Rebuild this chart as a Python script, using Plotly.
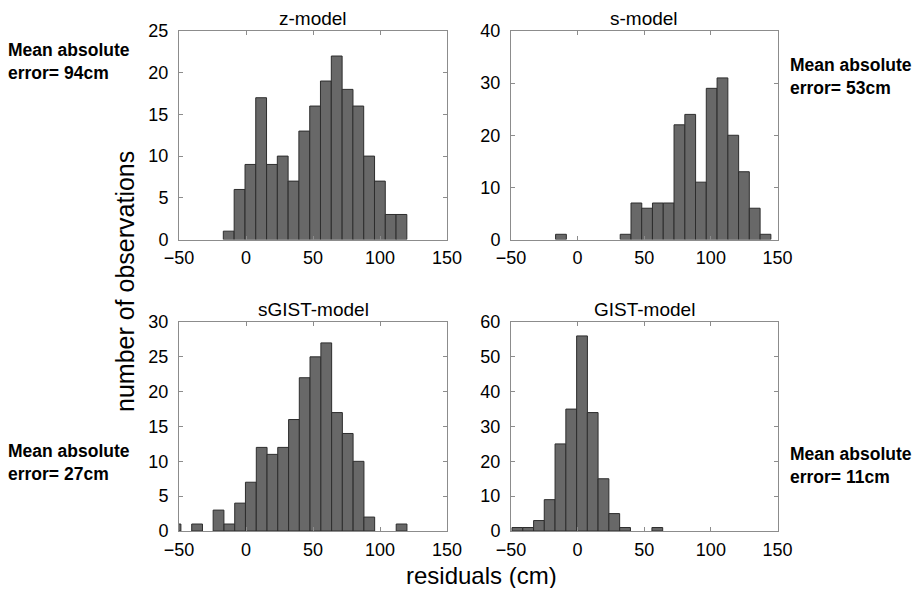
import plotly.graph_objects as go

# ---------------- data ----------------
z_centers = [-12.9, -4.8, 3.3, 11.3, 19.4, 27.4, 35.5, 43.5, 51.6, 59.6, 67.7,
             75.8, 83.8, 91.9, 99.9, 108.0, 116.0]
z_counts = [1, 6, 9, 17, 9, 10, 7, 13, 16, 19, 22, 18, 16, 10, 7, 3, 3]
z_width = 8.06

s_centers = [-12.5, -4.4, 3.7, 11.8, 19.8, 27.9, 36.0, 44.1, 52.1, 60.2, 68.3,
             76.4, 84.5, 92.5, 100.6, 108.7, 116.8, 124.8, 132.9, 141.0]
s_counts = [1, 0, 0, 0, 0, 0, 1, 7, 6, 7, 7, 22, 24, 11, 29, 31, 20, 13, 6, 1]
s_width = 8.08

sg_centers = [-52.6, -44.6, -36.5, -28.5, -20.5, -12.4, -4.4, 3.6, 11.7, 19.7,
              27.7, 35.8, 43.8, 51.8, 59.9, 67.9, 75.9, 84.0, 92.0, 100.0,
              108.1, 116.1]
sg_counts = [1, 0, 1, 0, 3, 1, 4, 7, 12, 11, 12, 16, 22, 25, 27, 17, 14, 10, 2,
             0, 0, 1]
sg_width = 8.03

g_centers = [-45.2, -37.1, -29.0, -21.0, -12.9, -4.8, 3.3, 11.3, 19.4, 27.5,
             35.6, 43.6, 51.7, 59.8]
g_counts = [1, 1, 3, 9, 25, 35, 56, 34, 15, 5, 1, 0, 0, 1]
g_width = 8.08

titles = ["z-model", "s-model", "sGIST-model", "GIST-model"]
mae_labels = ["94cm", "53cm", "27cm", "11cm"]
x_ticks = [-50, 0, 50, 100, 150]
y_ranges = [[0, 25], [0, 40], [0, 30], [0, 60]]
y_dticks = [5, 10, 5, 10]

# ---------------- figure ----------------
# The page body has an 8px margin, so the figure is drawn 16px smaller and
# all page-pixel positions below are shifted by that 8px offset.
PAGE_W, PAGE_H = 924, 596
OFF = 8
W, H = PAGE_W - 2 * OFF, PAGE_H - 2 * OFF


def fx(px):
    return (px - OFF) / W


def fy(py):
    return 1 - (py - OFF) / H


FONT = "Liberation Sans, Arial, Helvetica, sans-serif"
BAR_FILL = "rgb(104,104,104)"
BAR_EDGE = "rgb(45,45,45)"
FRAME = "rgb(140,140,140)"

panels = [
    (z_centers, z_counts, z_width),
    (s_centers, s_counts, s_width),
    (sg_centers, sg_counts, sg_width),
    (g_centers, g_counts, g_width),
]

# page-pixel boxes of the four plot areas: (left, right, top, bottom)
boxes = [
    (179, 447, 31, 239.5),
    (511, 777.5, 31, 239.5),
    (179, 447, 322, 531),
    (511, 777.5, 322, 531),
]

fig = go.Figure()
layout = dict(
    width=W, height=H,
    margin=dict(l=0, r=0, t=0, b=0, autoexpand=False),
    paper_bgcolor="white", plot_bgcolor="white",
    showlegend=False,
    font=dict(family=FONT, size=18, color="black"),
)

annotations = []
for i, ((cx, cnt, wd), (l, r, t, b)) in enumerate(zip(panels, boxes)):
    k = "" if i == 0 else str(i + 1)
    xs = [c for c, n in zip(cx, cnt) if n > 0]
    ys = [n for n in cnt if n > 0]
    fig.add_trace(go.Bar(
        x=xs, y=ys, width=wd,
        marker=dict(color=BAR_FILL, line=dict(color=BAR_EDGE, width=1)),
        xaxis="x" + k, yaxis="y" + k, hoverinfo="x+y",
    ))
    layout["xaxis" + k] = dict(
        domain=[fx(l), fx(r)], anchor="y" + k,
        range=[-50, 150], tickvals=x_ticks,
        showgrid=False, zeroline=False, automargin=False,
        showline=True, linecolor=FRAME, linewidth=1, mirror="ticks",
        ticks="inside", ticklen=4, tickcolor=FRAME,
        tickfont=dict(size=18, family=FONT, color="black"),
        ticklabelstandoff=2,
        fixedrange=True,
    )
    layout["yaxis" + k] = dict(
        domain=[fy(b), fy(t)], anchor="x" + k,
        range=y_ranges[i], dtick=y_dticks[i], tick0=0,
        showgrid=False, zeroline=False, automargin=False,
        showline=True, linecolor=FRAME, linewidth=1, mirror="ticks",
        ticks="inside", ticklen=4, tickcolor=FRAME,
        tickfont=dict(size=18, family=FONT, color="black"),
        ticklabelstandoff=6,
        fixedrange=True,
    )
    annotations.append(dict(
        text=titles[i], xref="paper", yref="paper",
        x=fx((l + r) / 2), y=fy(t - 13),
        xanchor="center", yanchor="middle", showarrow=False,
        font=dict(size=19, family=FONT, color="black"),
    ))

# mean absolute error notes
mae_pos = [(6, 61.5), (788, 76), (6, 462), (788, 465)]
for (px, py), lab in zip(mae_pos, mae_labels):
    annotations.append(dict(
        text="Mean absolute<br>error= " + lab,
        xref="paper", yref="paper", x=fx(px), y=fy(py),
        xanchor="left", yanchor="middle", align="left", showarrow=False,
        font=dict(size=17.5, family=FONT, color="black", weight="bold"),
    ))

# shared axis titles
annotations.append(dict(
    text="number of observations", xref="paper", yref="paper",
    x=fx(125), y=fy(282), xanchor="center", yanchor="middle",
    textangle=-90, showarrow=False,
    font=dict(size=25, family=FONT, color="black"),
))
annotations.append(dict(
    text="residuals (cm)", xref="paper", yref="paper",
    x=fx(481), y=fy(575), xanchor="center", yanchor="middle",
    showarrow=False,
    font=dict(size=24, family=FONT, color="black"),
))

layout["annotations"] = annotations
fig.update_layout(**layout)
fig.write_html("out.html")
